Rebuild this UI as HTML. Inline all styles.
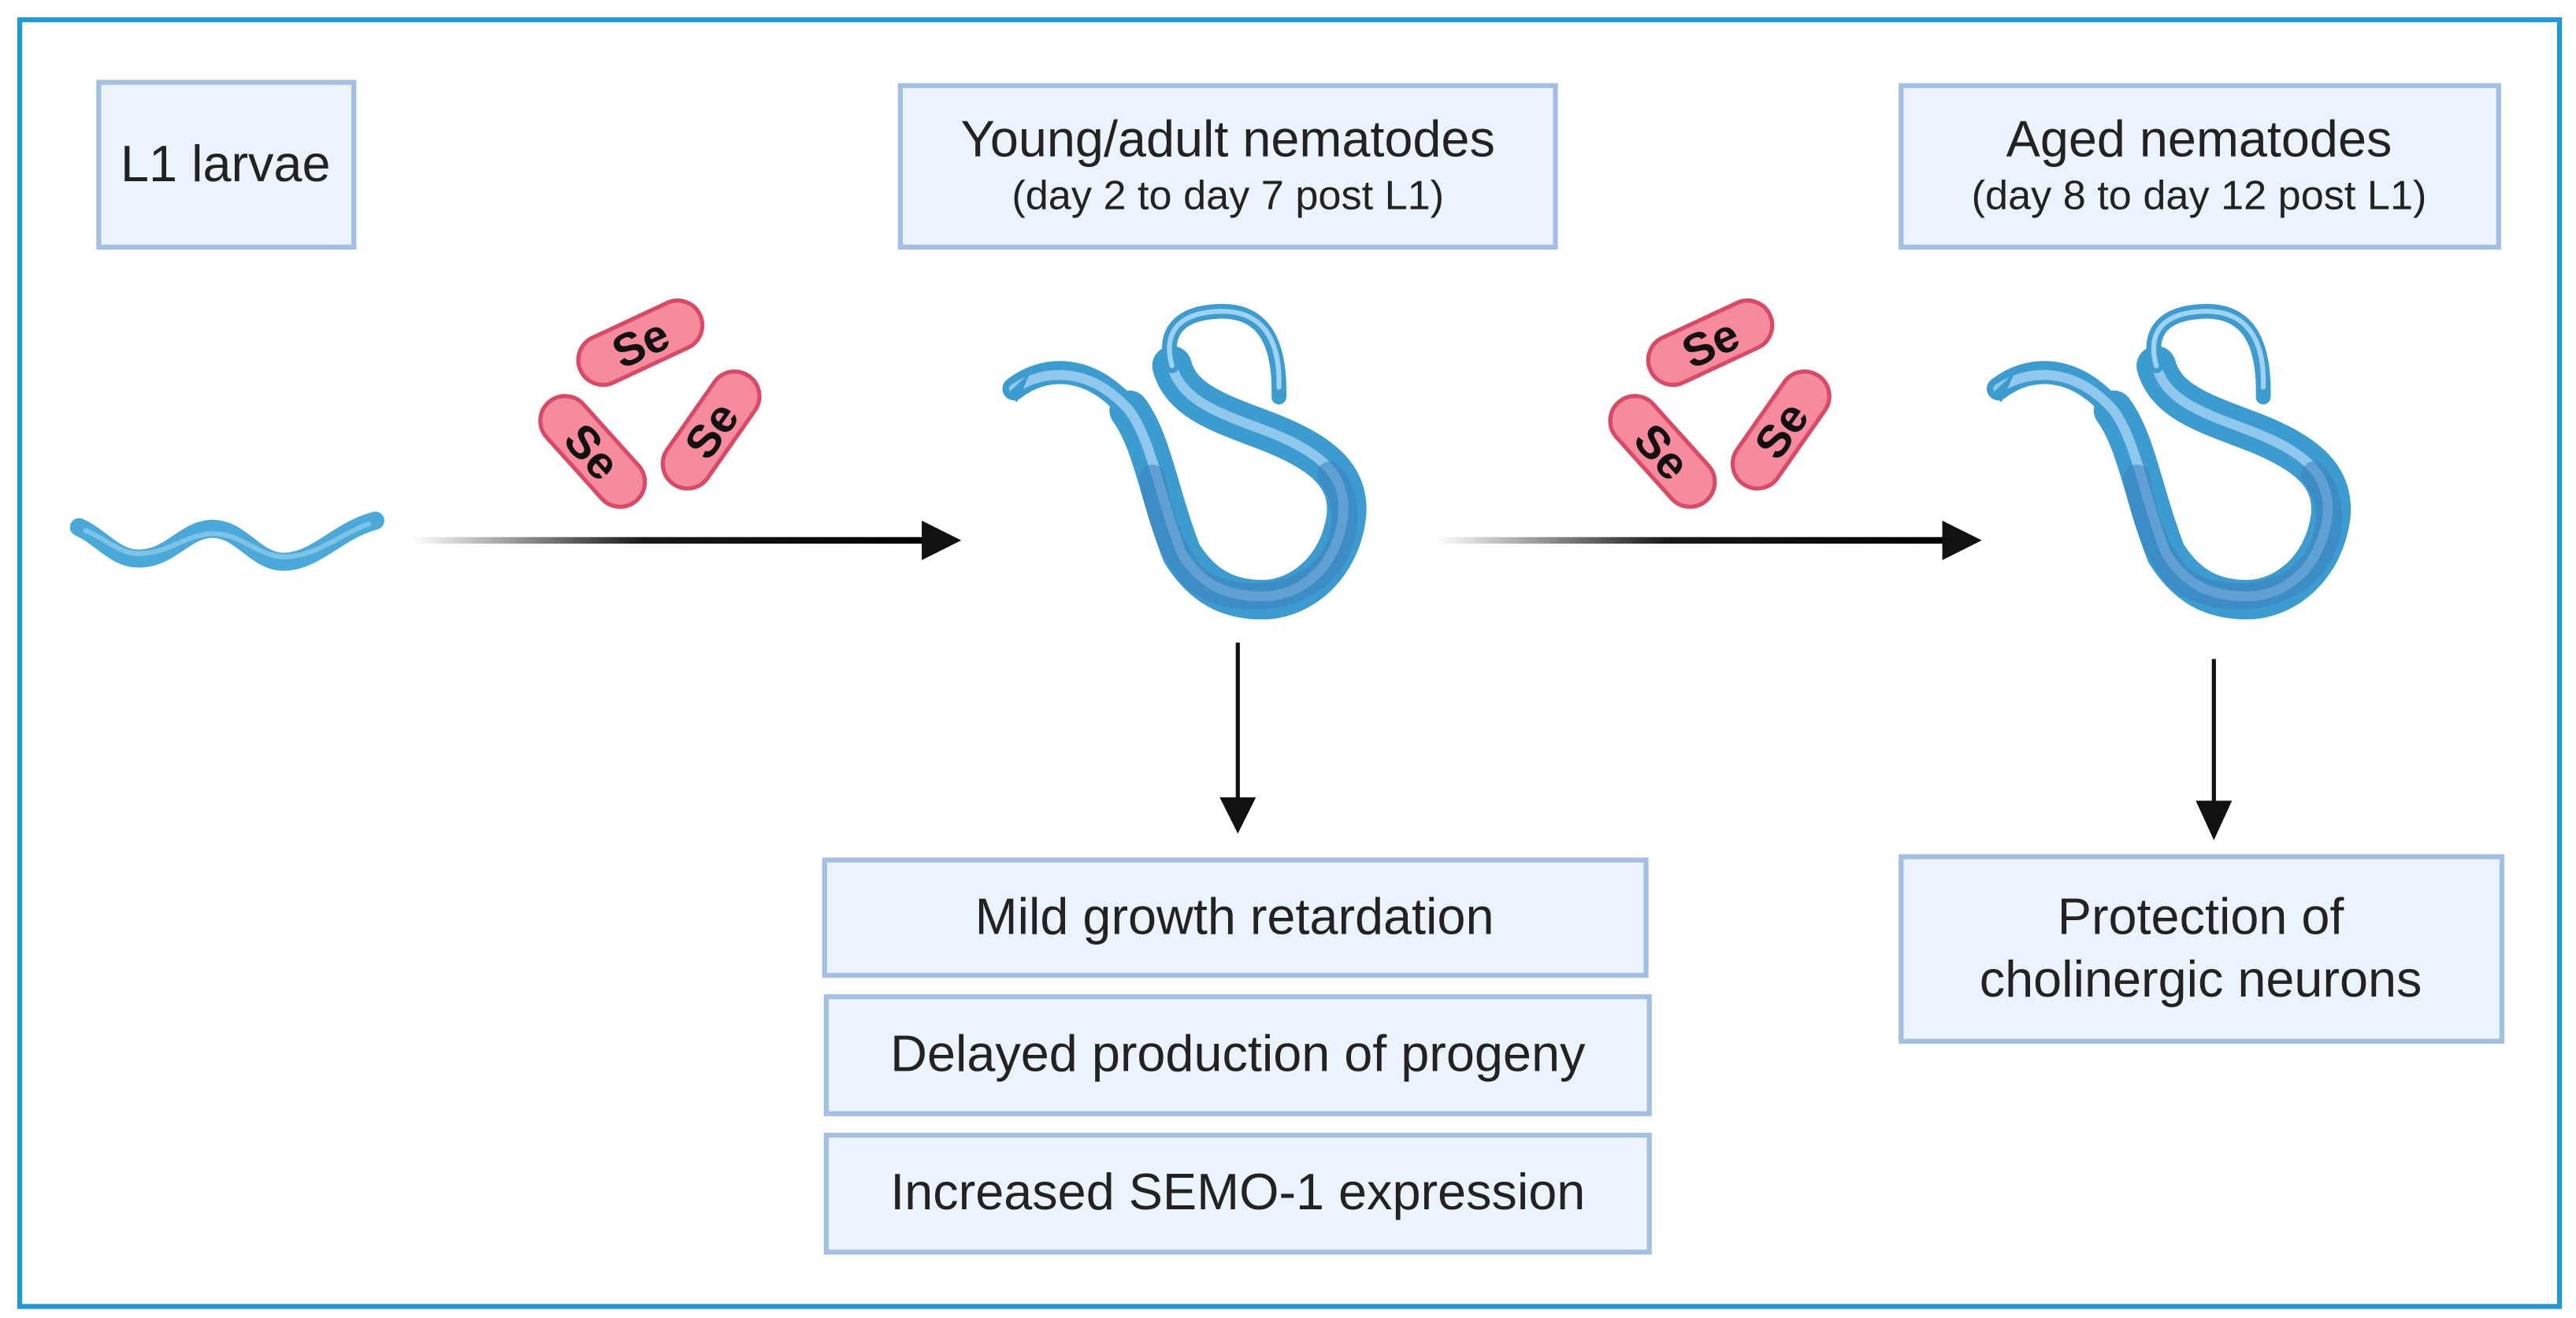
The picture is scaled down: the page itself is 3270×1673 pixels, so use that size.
<!DOCTYPE html>
<html><head><meta charset="utf-8"><style>
html,body{margin:0;padding:0;background:#fff}
svg{display:block}
text{font-family:"Liberation Sans",sans-serif;fill:#222}
</style></head><body>
<svg width="3270" height="1673" viewBox="0 0 1565 800" preserveAspectRatio="none" xmlns="http://www.w3.org/2000/svg">
<defs>
<linearGradient id="ga" x1="0" x2="1" y1="0" y2="0">
<stop offset="0" stop-color="#000" stop-opacity="0"/>
<stop offset="0.45" stop-color="#000" stop-opacity="0.9"/>
<stop offset="1" stop-color="#000"/>
</linearGradient>
<g id="worm">
<path d="M616,236 C634,222 662,220 686,249" fill="none" stroke="#3d9ccf" stroke-width="14" stroke-linecap="round"/>
<path d="M686,249 C700,268 704,300 718,336 C730,355 745,364 767,364 C790,364 814,345 818,313 C820,290 805,276 773,263 C745,252 718,245 712,222" fill="none" stroke="#3d9ccf" stroke-width="24" stroke-linecap="round"/>
<path d="M616,236 C634,224 662,222 686,249 C700,268 704,300 718,336 C730,355 745,362 767,362 C790,362 812,345 816,313 C818,290 805,276 773,263 C745,252 718,245 712,222" fill="none" stroke="#8fc8ec" stroke-width="6" stroke-linecap="round"/>
<path d="M700,290 C705,315 712,335 725,350 C745,368 795,368 812,335 C820,318 818,300 808,288" fill="none" stroke="#3d7fc0" stroke-width="16" stroke-linecap="round" stroke-dasharray="3 2" opacity="0.55"/>
<path d="M712,222 C706,200 718,190 740,189 C762,188 778,200 777,241" fill="none" stroke="#3d9ccf" stroke-width="9" stroke-linecap="round"/>
<path d="M712,222 C706,200 718,190 740,189 C762,188 778,200 777,235" fill="none" stroke="#9fd2f0" stroke-width="3" stroke-linecap="round"/>
<path d="M611,240 L626,226 L618,244 Z" fill="#3d9ccf"/>
</g>
<g id="pills">
<g transform="translate(389,208) rotate(-25)"><rect x="-40" y="-15" width="80" height="30" rx="15" fill="#f58b9c" stroke="#d84a66" stroke-width="2.5"/><text x="0" y="10" font-size="28" font-weight="bold" text-anchor="middle" style="fill:#111">Se</text></g>
<g transform="translate(360,274) rotate(48)"><rect x="-40" y="-15" width="80" height="30" rx="15" fill="#f58b9c" stroke="#d84a66" stroke-width="2.5"/><text x="0" y="10" font-size="28" font-weight="bold" text-anchor="middle" style="fill:#111">Se</text></g>
<g transform="translate(432,261) rotate(-55)"><rect x="-40" y="-15" width="80" height="30" rx="15" fill="#f58b9c" stroke="#d84a66" stroke-width="2.5"/><text x="0" y="10" font-size="28" font-weight="bold" text-anchor="middle" style="fill:#111">Se</text></g>
</g>
</defs>
<rect x="12" y="12" width="1543" height="781" fill="#fff" stroke="#1f9ad6" stroke-width="3"/>

<rect x="60" y="50" width="155" height="100" fill="#ebf3fc" stroke="#a3bfe3" stroke-width="3"/>
<text x="137" y="110" font-size="31" text-anchor="middle">L1 larvae</text>
<rect x="547" y="52" width="398" height="98" fill="#ebf3fc" stroke="#a3bfe3" stroke-width="3"/>
<text x="746" y="95" font-size="31" text-anchor="middle">Young/adult nematodes</text>
<text x="746" y="127" font-size="25" text-anchor="middle">(day 2 to day 7 post L1)</text>
<rect x="1155" y="52" width="363" height="98" fill="#ebf3fc" stroke="#a3bfe3" stroke-width="3"/>
<text x="1336" y="95" font-size="31" text-anchor="middle">Aged nematodes</text>
<text x="1336" y="127" font-size="25" text-anchor="middle">(day 8 to day 12 post L1)</text>

<path d="M48,320 C62,326 70,340 86,339 C104,338 112,322 128,321 C146,320 155,341 172,341 C192,341 205,322 228,316" fill="none" stroke="#4aa9d8" stroke-width="11" stroke-linecap="round"/>
<path d="M52,322 C66,328 74,337 86,336 C104,335 112,325 128,324 C146,323 155,337 172,338 C192,338 205,325 224,318" fill="none" stroke="#7cc3e6" stroke-width="3" stroke-linecap="round"/>

<rect x="250" y="326" width="312" height="4" fill="url(#ga)"/>
<path d="M560,316 L584,328 L560,340 Z" fill="#111"/>
<rect x="872" y="326" width="312" height="4" fill="url(#ga)"/>
<path d="M1180,316 L1204,328 L1180,340 Z" fill="#111"/>

<use href="#pills"/>
<use href="#pills" transform="translate(650,0)"/>
<use href="#worm"/>
<use href="#worm" transform="translate(598,0)"/>

<line x1="752" y1="390" x2="752" y2="488" stroke="#111" stroke-width="2.5"/>
<path d="M741,484 L752,506 L763,484 Z" fill="#111"/>
<line x1="1345" y1="400" x2="1345" y2="490" stroke="#111" stroke-width="2.5"/>
<path d="M1334,486 L1345,510 L1356,486 Z" fill="#111"/>

<rect x="501" y="522" width="499" height="70" fill="#ebf3fc" stroke="#a3bfe3" stroke-width="3"/>
<text x="750" y="567" font-size="31" text-anchor="middle">Mild growth retardation</text>
<rect x="502" y="605" width="500" height="71" fill="#ebf3fc" stroke="#a3bfe3" stroke-width="3"/>
<text x="752" y="650" font-size="31" text-anchor="middle">Delayed production of progeny</text>
<rect x="502" y="689" width="500" height="71" fill="#ebf3fc" stroke="#a3bfe3" stroke-width="3"/>
<text x="752" y="734" font-size="31" text-anchor="middle">Increased SEMO-1 expression</text>
<rect x="1155" y="520" width="365" height="112" fill="#ebf3fc" stroke="#a3bfe3" stroke-width="3"/>
<text x="1337" y="567" font-size="31" text-anchor="middle">Protection of</text>
<text x="1337" y="605" font-size="31" text-anchor="middle">cholinergic neurons</text>
</svg>
</body></html>
